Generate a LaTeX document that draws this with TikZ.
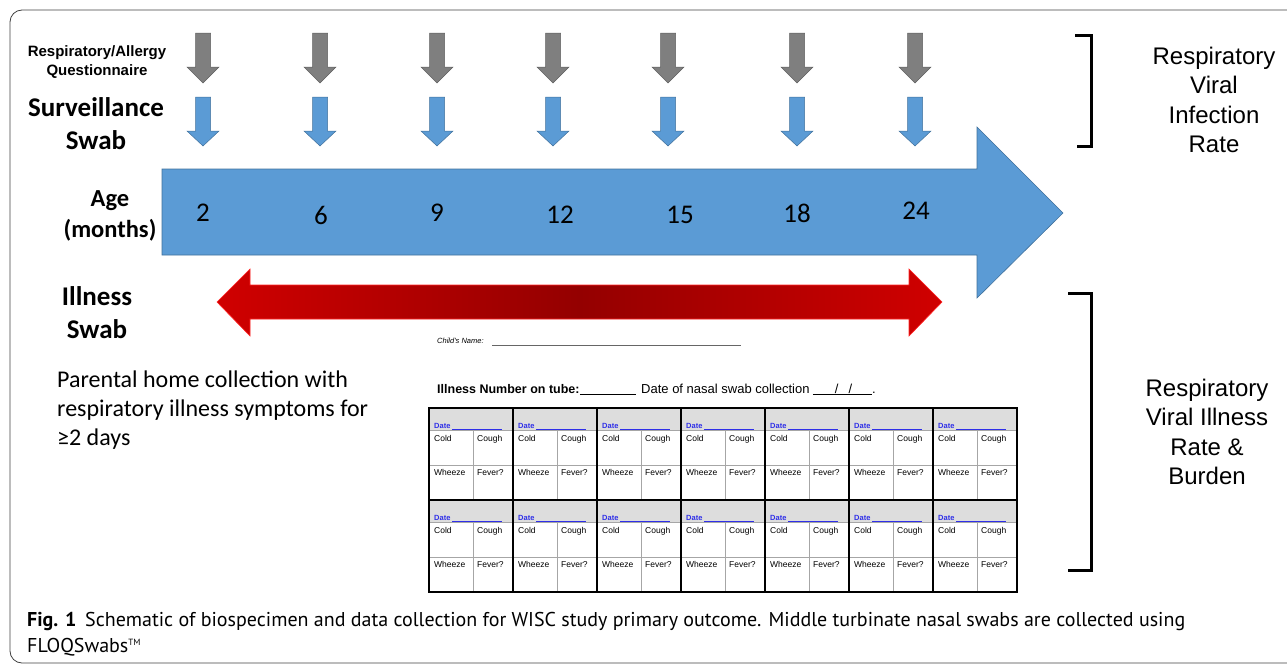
\documentclass[tikz,border=0pt]{standalone}
\usepackage{fontspec}
\setmainfont{Carlito}
\newfontfamily\arialfont{Liberation Sans}
\newfontfamily\captionfont{PT Sans}
\usetikzlibrary{positioning}

\definecolor{swabblue}{HTML}{5B9BD5}
\definecolor{swabedge}{HTML}{41719C}
\definecolor{questgrey}{HTML}{7F7F7F}
\definecolor{questedge}{HTML}{5F5F5F}
\definecolor{illred}{HTML}{D00000}
\definecolor{illdark}{HTML}{940000}
\definecolor{dateblue}{HTML}{2F2FE8}
\definecolor{cellgrey}{HTML}{DDDDDD}

\tikzset{
    sidelabel/.style={align=center,inner sep=0pt,font=\fontsize{27}{33}\selectfont\bfseries},
    ratelabel/.style={align=center,inner sep=0pt,font=\arialfont\fontsize{24}{29.5}\selectfont},
    formtext/.style={inner sep=0pt,anchor=base west,font=\arialfont\fontsize{8.5}{10}\selectfont},
    bracket/.style={line width=3pt},
    thickrule/.style={line width=2.4pt},
    thinrule/.style={line width=0.8pt,black!35}
}

\begin{document}
\begin{tikzpicture}[x=1pt,y=-1pt]
    \useasboundingbox (0,0) rectangle (1287,664);
    \draw[black!75,line width=0.8pt,rounded corners=12pt] (1300,10) -- (10,10) -- (10,663) -- (1300,663);

    % age arrow and illness arrow
    \draw[fill=swabblue,draw=swabedge,line width=0.6pt] (162,169) -- (977,169) -- (977,127) -- (1063,213) -- (977,298) -- (977,255) -- (162,255) -- cycle;
    \path[draw=red!85!white,line width=0.6pt,left color=illred,right color=illred,middle color=illdark]
        (217,302) -- (250,269) -- (250,285) -- (909,285) -- (909,269) -- (942,302) -- (909,336) -- (909,319) -- (250,319) -- (250,336) -- cycle;

    \foreach \x in {203,320,437,553,668,797,915} {
        \draw[fill=questgrey,draw=questedge,line width=0.5pt] (\x-7.5,33) -- (\x+7.5,33) -- (\x+7.5,67) -- (\x+16,67) -- (\x,83) -- (\x-16,67) -- (\x-7.5,67) -- cycle;
        \draw[fill=swabblue,draw=swabedge,line width=0.5pt] (\x-7.5,97) -- (\x+7.5,97) -- (\x+7.5,131) -- (\x+16,131) -- (\x,146) -- (\x-16,131) -- (\x-7.5,131) -- cycle;
    }

    \begin{scope}[every node/.style={font=\fontsize{27}{30}\selectfont}]
        \foreach \x/\y/\m in {203/213/2,321/215/6,437/213/9,560/215/12,680/215/15,797/213/18,916/211/24}
            \node (age\m) at (\x,\y) {\m};
    \end{scope}

    \node[align=center,inner sep=0pt,font=\arialfont\bfseries\fontsize{15}{19}\selectfont] (quest) at (97,62) {Respiratory/Allergy\\Questionnaire};
    \node[sidelabel] (surv) at (96,124) {Surveillance\\Swab};
    \node[sidelabel,font=\fontsize{24.5}{31}\selectfont\bfseries] (agelab) at (110,216) {Age\\(months)};
    \node[sidelabel] (illswab) at (97,313) {Illness\\Swab};
    \node[anchor=west,align=left,inner sep=0pt,font=\fontsize{24}{29}\selectfont] (parent) at (57,410)
        {Parental home collection with\\respiratory illness symptoms for\\≥2 days};

    % brackets
    \draw[bracket] (1075,35) -- (1091,35) -- (1091,146) -- (1077,146);
    \draw[bracket] (1068,293) -- (1091,293) -- (1091,570) -- (1068,570);
    \node[ratelabel] (infrate) at (1214,100) {Respiratory\\Viral\\Infection\\Rate};
    \node[ratelabel] (illrate) at (1207,432) {Respiratory\\Viral Illness\\Rate \&\\Burden};

    % symptom form
    \node[formtext,font=\arialfont\itshape\fontsize{7.5}{9}\selectfont] (childname) at (437,343) {Child's Name:};
    \draw[black!60,line width=0.6pt] (492,345) -- (741,345);
    \node[formtext,font=\arialfont\bfseries\fontsize{12.5}{15}\selectfont] (illnum) at (437,393) {Illness Number on tube:};
    \draw[line width=0.6pt] (illnum.base east) ++(0,1) -- (636,394);
    \node[formtext,font=\arialfont\fontsize{13}{15}\selectfont] (swabdate) at (641,393) {Date of nasal swab collection};
    \node[formtext,font=\arialfont\fontsize{13}{15}\selectfont,right=3pt of swabdate.base east,anchor=base west]
        (slashes) {\underline{\hspace{22pt}/\hspace{10pt}/\hspace{20pt}}.};

    \foreach \c in {0,...,6} {
        \foreach \yt in {408,500} {
            \fill[cellgrey] (429+84*\c,\yt) rectangle (513+84*\c,\yt+22);
            \draw[thinrule] (429+84*\c,\yt+22) -- (513+84*\c,\yt+22);
            \draw[thinrule] (429+84*\c,\yt+57) -- (513+84*\c,\yt+57);
            \draw[thinrule] (473+84*\c,\yt+22) -- (473+84*\c,\yt+92);
            \node[formtext,font=\arialfont\bfseries\fontsize{7.5}{9}\selectfont,text=dateblue] at (434+84*\c,\yt+20) {Date};
            \draw[dateblue,line width=0.6pt] (452+84*\c,\yt+21) -- (502+84*\c,\yt+21);
            \node[formtext] at (434+84*\c,\yt+33) {Cold};
            \node[formtext] at (477+84*\c,\yt+33) {Cough};
            \node[formtext] at (434+84*\c,\yt+67) {Wheeze};
            \node[formtext] at (477+84*\c,\yt+67) {Fever?};
        }
    }
    \foreach \c in {0,...,7}
        \draw[thickrule] (429+84*\c,408) -- (429+84*\c,592);
    \foreach \y in {408,500,592}
        \draw[thickrule] (428,\y) -- (1018,\y);

    % caption
    \node[inner sep=0pt,anchor=base west,font=\captionfont\bfseries\fontsize{20}{26}\selectfont] (figno) at (27,626) {Fig. 1};
    \node[inner sep=0pt,anchor=base west,font=\captionfont\fontsize{20}{26}\selectfont] (captext) at (85,626)
        {Schematic of biospecimen and data collection for WISC study primary outcome. Middle turbinate nasal swabs are collected using};
    \node[inner sep=0pt,anchor=base west,font=\captionfont\fontsize{20}{26}\selectfont] (capmore) at (27,652)
        {FLOQSwabs\raisebox{7pt}{\fontsize{9}{10}\selectfont TM}};
\end{tikzpicture}
\end{document}
